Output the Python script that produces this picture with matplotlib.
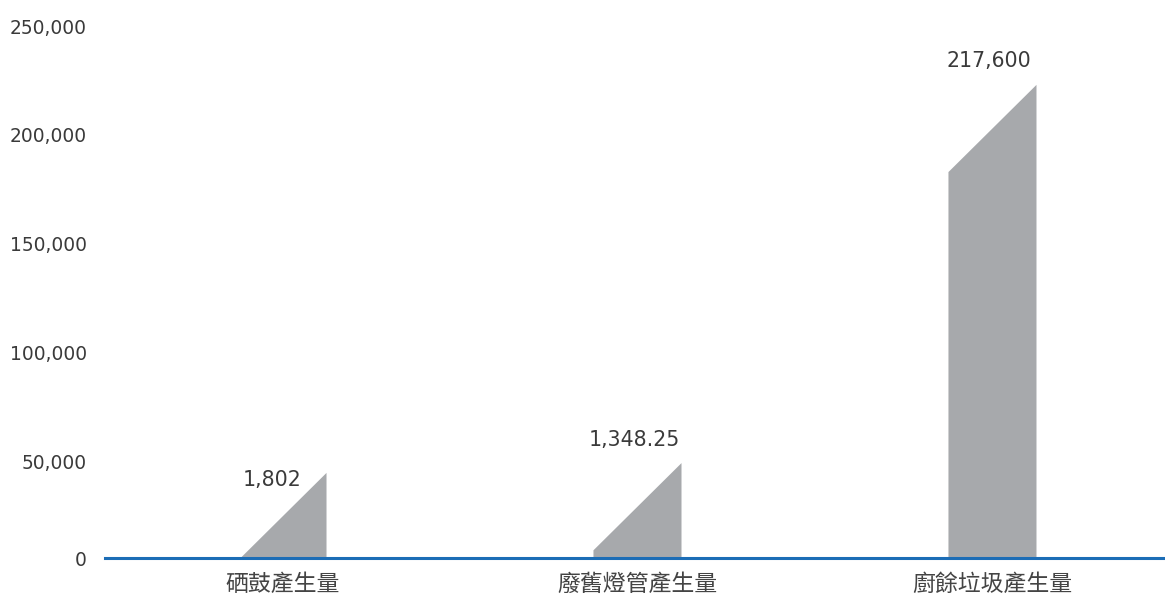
import matplotlib
matplotlib.use("Agg")
import matplotlib.pyplot as plt
from matplotlib.patches import Polygon

# data
categories = ["硒鼓產生量", "廢舊燈管產生量", "廚餘垃圾產生量"]
value_labels = ["1,802", "1,348.25", "217,600"]
bar_heights = [45000, 49500, 223000]   # drawn height of the right edge
slant = 40000                          # left edge sits this much lower

y_ticks = [5963, 50000, 100000, 150000, 200000, 250000]
y_tick_labels = ["0", "50,000", "100,000", "150,000", "200,000", "250,000"]

bar_color = "#a7a9ac"
axis_color = "#1c6db6"
text_color = "#3a3a3a"

fig = plt.figure(figsize=(11.65, 6.05), dpi=100)
ax = fig.add_axes([105 / 1165, 47 / 605, 1060 / 1165, 532 / 605])

w = 0.248
for i, h in enumerate(bar_heights):
    x0, x1 = i - w / 2, i + w / 2
    pts = [(x0, 0), (x1, 0), (x1, h), (x0, h - slant)]
    ax.add_patch(Polygon(pts, closed=True, facecolor=bar_color, edgecolor="none"))

# value labels: first sits beside the slope, the rest above the bar
ax.text(-0.03, bar_heights[0] - 3300, value_labels[0], ha="center", va="center",
        fontsize=14.8, color=text_color, family="DejaVu Sans")
for i in range(1, len(bar_heights)):
    ax.text(i - 0.01, bar_heights[i] + 10800, value_labels[i], ha="center", va="center",
            fontsize=14.8, color=text_color, family="DejaVu Sans")

ax.set_xlim(-0.5, 2.486)
ax.set_ylim(5963, 250000)

ax.set_xticks(range(len(categories)))
ax.set_xticklabels(categories, family=["Noto Sans CJK TC", "DejaVu Sans"],
                   fontsize=16.5, color="#444444", weight="light")
ax.set_yticks(y_ticks)
ax.set_yticklabels(y_tick_labels, family="DejaVu Sans", fontsize=13.4, color=text_color)
ax.tick_params(axis="y", length=0, pad=13)
ax.tick_params(axis="x", length=0, pad=11)

for s in ["top", "right", "left"]:
    ax.spines[s].set_visible(False)
ax.spines["bottom"].set_color(axis_color)
ax.spines["bottom"].set_linewidth(2.2)

fig.savefig("out.png", dpi=100, facecolor="white")
